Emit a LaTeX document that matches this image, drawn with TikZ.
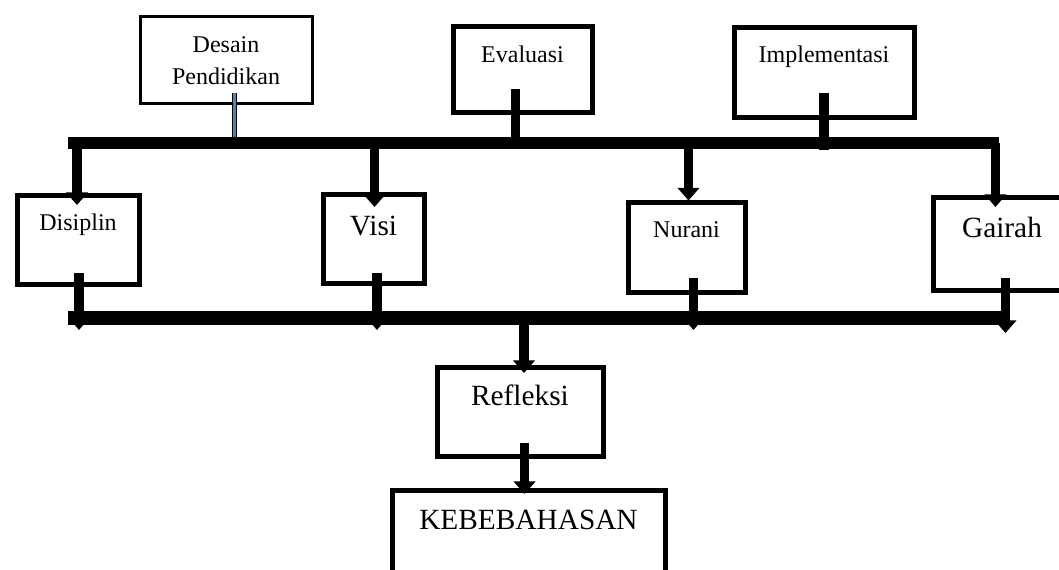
\documentclass[tikz,border=0pt]{standalone}
\usepackage{fontspec}
\setmainfont{Liberation Serif}
\usetikzlibrary{arrows.meta}
\definecolor{garisbiru}{RGB}{79,129,189}
\tikzset{
  kotak/.style={draw,line width=3.75pt,inner sep=0pt,anchor=north west,
    font=\fontsize{18}{22}\selectfont},
  besar/.style={font=\fontsize{22}{26}\selectfont},
  jalur/.style={line width=9pt},
  panah/.style={line width=7pt,-{Triangle[width=16pt,length=9.5pt]}},
  kaki/.style={line width=7pt},
}
\begin{document}
\begin{tikzpicture}[x=0.75pt,y=-0.75pt]
  \useasboundingbox (0,0) rectangle (1059,570);
  \clip (0,0) rectangle (1059,570);
  % kotak atas
  \node (desain) at (138.5,15.5) [kotak,line width=2.25pt,minimum width=129pt,minimum height=65.25pt,align=center,font=\fontsize{18}{24}\selectfont] {Desain\\Pendidikan};
  \node (evaluasi) at (450.5,24.5) [kotak,minimum width=104.25pt,text height=26.6pt,text depth=37.9pt] {Evaluasi};
  \node (implementasi) at (731.5,25.5) [kotak,minimum width=135pt,text height=25.9pt,text depth=41.6pt] {Implementasi};
  % kotak tengah
  \node (disiplin) at (14.5,193.5) [kotak,minimum width=91.5pt,text height=25.9pt,text depth=40.1pt] {Disiplin};
  \node (visi) at (320.5,192.5) [kotak,besar,minimum width=75.75pt,text height=30.4pt,text depth=35.6pt] {Visi};
  \node (nurani) at (625.5,200.5) [kotak,minimum width=87.75pt,text height=25.9pt,text depth=40.9pt] {Nurani};
  \node (gairah) at (930.5,195.5) [kotak,besar,minimum width=103.5pt,text height=29.6pt,text depth=39.4pt] {Gairah};
  % kotak bawah
  \node (refleksi) at (434.5,364.5) [kotak,besar,minimum width=124.5pt,text height=28.9pt,text depth=37.9pt] {Refleksi};
  \node (kebebasan) at (389.5,487.5) [kotak,besar,minimum width=204.75pt,text height=29.6pt,text depth=38.25pt] {KEBEBAHASAN};
  % ujung jalur
  \coordinate (atasKiri) at (68,143);
  \coordinate (atasKanan) at (999,143);
  \coordinate (bawahKiri) at (68,318);
  \coordinate (bawahKanan) at (1005,318);
  % masuk ke jalur atas
  \draw [line width=1pt,double=garisbiru,double distance=2pt] ([xshift=6.4pt,yshift=9.4pt]desain.south) -- ([xshift=6.4pt]desain.south |- atasKiri);
  \draw [kaki] ([xshift=-5.25pt,yshift=19.9pt]evaluasi.south) -- ([xshift=-5.25pt]evaluasi.south |- atasKiri);
  \draw [kaki] ([yshift=20.6pt]implementasi.south) -- ([yshift=-5.25pt]implementasi.south |- atasKiri);
  \draw [jalur] (atasKiri) -- (atasKanan);
  % dari jalur atas
  \draw [panah] ([xshift=-0.75pt]disiplin.north |- atasKiri) -- ([xshift=-0.75pt,yshift=-8.6pt]disiplin.north);
  \draw [panah] ([xshift=0.75pt]visi.north |- atasKiri) -- ([xshift=0.75pt,yshift=-10.9pt]visi.north);
  \draw [panah] ([xshift=1.5pt]nurani.north |- atasKiri) -- ([xshift=1.5pt]nurani.north);
  \draw [panah] ([xshift=-4.9pt]gairah.north |- atasKiri) -- ([xshift=-4.9pt,yshift=-8.6pt]gairah.north);
  % jalur bawah
  \draw [jalur,line width=10.5pt] (bawahKiri) -- (bawahKanan);
  \draw [panah] ([xshift=0.75pt,yshift=10pt]disiplin.south) -- ([xshift=0.75pt,yshift=-9pt]disiplin.south |- bawahKiri);
  \draw [panah] ([xshift=2.6pt,yshift=9.4pt]visi.south) -- ([xshift=2.6pt,yshift=-9pt]visi.south |- bawahKiri);
  \draw [panah] ([xshift=5.25pt,yshift=12.4pt]nurani.south) -- ([xshift=5.25pt,yshift=-9pt]nurani.south |- bawahKiri);
  \draw [panah] ([xshift=2.6pt,yshift=10.9pt]gairah.south) -- ([xshift=2.6pt,yshift=-11.25pt]gairah.south |- bawahKiri);
  \draw [panah] ([xshift=3pt]refleksi.north |- bawahKiri) -- ([xshift=3pt,yshift=-6.4pt]refleksi.north);
  \draw [panah] ([xshift=3.4pt,yshift=11.6pt]refleksi.south) -- ([xshift=3.4pt,yshift=-4.9pt]refleksi.south |- kebebasan.north);
\end{tikzpicture}
\end{document}
